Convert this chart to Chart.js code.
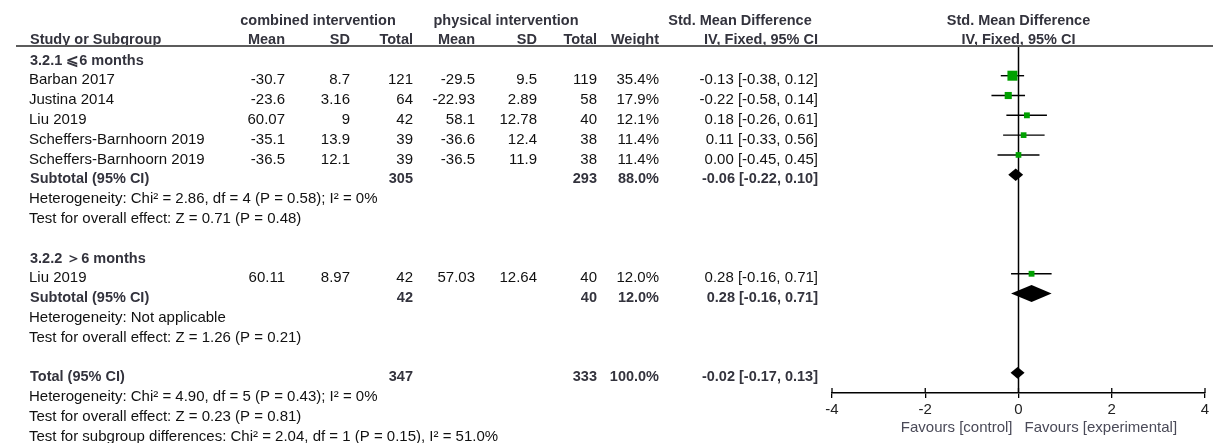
<!DOCTYPE html>
<html>
<head>
<meta charset="utf-8">
<script src="https://cdn.jsdelivr.net/npm/chart.js@4.4.1/dist/chart.umd.min.js"></script>
<style>
  html, body { margin: 0; padding: 0; background: #fff; }
  canvas { display: block; }
</style>
</head>
<body>
<canvas id="forest" width="1213" height="443"></canvas>
<script>
// ---- Study-level data (row = line number in the table, 0 = first subgroup heading)
const studyNames   = ['Barban 2017', 'Justina 2014', 'Liu 2019', 'Scheffers-Barnhoorn 2019', 'Scheffers-Barnhoorn 2019', 'Liu 2019'];
const studyRows    = [1, 2, 3, 4, 5, 11];
const combMean     = [-30.7, -23.6, 60.07, -35.1, -36.5, 60.11];
const combSD       = [8.7, 3.16, 9, 13.9, 12.1, 8.97];
const combN        = [121, 64, 42, 39, 39, 42];
const physMean     = [-29.5, -22.93, 58.1, -36.6, -36.5, 57.03];
const physSD       = [9.5, 2.89, 12.78, 12.4, 11.9, 12.64];
const physN        = [119, 58, 40, 38, 38, 40];
const studyWeight  = [35.4, 17.9, 12.1, 11.4, 11.4, 12.0];
const studySMD     = [-0.13, -0.22, 0.18, 0.11, 0.00, 0.28];
const studyLow     = [-0.38, -0.58, -0.26, -0.33, -0.45, -0.16];
const studyHigh    = [0.12, 0.14, 0.61, 0.56, 0.45, 0.71];

// ---- Pooled estimates (two subtotals and the overall total)
const pooledLabels = ['Subtotal (95% CI)', 'Subtotal (95% CI)', 'Total (95% CI)'];
const pooledRows   = [6, 12, 16];
const pooledCombN  = [305, 42, 347];
const pooledPhysN  = [293, 40, 333];
const pooledWeight = [88.0, 12.0, 100.0];
const pooledSMD    = [-0.06, 0.28, -0.02];
const pooledLow    = [-0.22, -0.16, -0.17];
const pooledHigh   = [0.10, 0.71, 0.13];

// ---- Subgroup headings and statistics lines
const headingTexts = ['3.2.1 \u2A7D6 months', '3.2.2 \uFF1E6 months'];
const headingRows  = [0, 10];
const noteTexts = [
  'Heterogeneity: Chi\u00B2 = 2.86, df = 4 (P = 0.58); I\u00B2 = 0%',
  'Test for overall effect: Z = 0.71 (P = 0.48)',
  'Heterogeneity: Not applicable',
  'Test for overall effect: Z = 1.26 (P = 0.21)',
  'Heterogeneity: Chi\u00B2 = 4.90, df = 5 (P = 0.43); I\u00B2 = 0%',
  'Test for overall effect: Z = 0.23 (P = 0.81)',
  'Test for subgroup differences: Chi\u00B2 = 2.04, df = 1 (P = 0.15), I\u00B2 = 51.0%'
];
const noteRows = [7, 8, 13, 14, 17, 18, 19];

// ---- Axis
const axisTicks = [-4, -2, 0, 2, 4];
const favoursLeft = 'Favours [control]';
const favoursRight = 'Favours [experimental]';

// ---- Styling
const FONT = '"Liberation Sans", Arial, sans-serif';
const REG = '15px ' + FONT;
const BOLD = 'bold 14.5px ' + FONT;
const TEXT = '#111111';
const HEAD = '#33333d';
const GREEN = '#00a000';

// column right edges (px) for the numeric table
const COL = { cMean: 285, cSD: 350, cN: 413, pMean: 475, pSD: 537, pN: 597, w: 659, ci: 818 };
const NAME_X = 29;

const fmtCI = (e, l, h) => `${e.toFixed(2)} [${l.toFixed(2)}, ${h.toFixed(2)}]`;

const forestPlugin = {
  id: 'forest',
  beforeDatasetsDraw(chart) {
    const { ctx, chartArea, scales: { x, y } } = chart;
    ctx.save();
    // line of no effect
    const x0 = x.getPixelForValue(0);
    ctx.strokeStyle = '#000';
    ctx.lineWidth = 1.5;
    ctx.beginPath();
    ctx.moveTo(x0, chartArea.top);
    ctx.lineTo(x0, chartArea.bottom);
    ctx.stroke();
    // confidence intervals of single studies
    ctx.lineWidth = 1.4;
    studyRows.forEach((r, i) => {
      const py = y.getPixelForValue(r);
      ctx.beginPath();
      ctx.moveTo(x.getPixelForValue(studyLow[i]), py);
      ctx.lineTo(x.getPixelForValue(studyHigh[i]), py);
      ctx.stroke();
    });
    // upper halves of axis tick marks
    ctx.lineWidth = 1.3;
    x.ticks.forEach(t => {
      const px = x.getPixelForValue(t.value);
      ctx.beginPath();
      ctx.moveTo(px, chartArea.bottom - 5);
      ctx.lineTo(px, chartArea.bottom);
      ctx.stroke();
    });
    ctx.restore();
  },
  afterDatasetsDraw(chart) {
    const { ctx, scales: { x, y } } = chart;
    ctx.save();
    ctx.fillStyle = '#000';
    pooledRows.forEach((r, i) => {
      const py = y.getPixelForValue(r);
      const l = x.getPixelForValue(pooledLow[i]);
      const h = x.getPixelForValue(pooledHigh[i]);
      const e = x.getPixelForValue(pooledSMD[i]);
      const half = Math.min(8.5, (h - l) * 0.42);
      ctx.beginPath();
      ctx.moveTo(l, py);
      ctx.lineTo(e, py - half);
      ctx.lineTo(h, py);
      ctx.lineTo(e, py + half);
      ctx.closePath();
      ctx.fill();
    });
    ctx.restore();
  },
  afterDraw(chart) {
    const { ctx, chartArea, scales: { x, y } } = chart;
    const base = r => y.getPixelForValue(r) + 8.7;
    ctx.save();
    const txt = (s, px, py, align, font, color) => {
      ctx.font = font; ctx.fillStyle = color; ctx.textAlign = align;
      ctx.textBaseline = 'alphabetic';
      ctx.fillText(s, px, py);
    };
    // column headers
    txt('combined intervention', 318, 25, 'center', BOLD, HEAD);
    txt('physical intervention', 506, 25, 'center', BOLD, HEAD);
    txt('Std. Mean Difference', 740, 25, 'center', BOLD, HEAD);
    const x0 = x.getPixelForValue(0);
    txt('Std. Mean Difference', x0, 25, 'center', BOLD, HEAD);
    txt('Study or Subgroup', 30, 44, 'left', BOLD, HEAD);
    [['Mean', COL.cMean], ['SD', COL.cSD], ['Total', COL.cN], ['Mean', COL.pMean],
     ['SD', COL.pSD], ['Total', COL.pN], ['Weight', COL.w], ['IV, Fixed, 95% CI', COL.ci]]
      .forEach(([s, px]) => txt(s, px, 44, 'right', BOLD, HEAD));
    txt('IV, Fixed, 95% CI', x0, 44, 'center', BOLD, HEAD);

    // header rule
    ctx.strokeStyle = '#5c5c5c';
    ctx.lineWidth = 2;
    ctx.beginPath();
    ctx.moveTo(16, chartArea.top);
    ctx.lineTo(1213, chartArea.top);
    ctx.stroke();

    // subgroup headings
    headingRows.forEach((r, i) => txt(headingTexts[i], 30, base(r), 'left', BOLD, HEAD));

    // study rows
    studyRows.forEach((r, i) => {
      const b = base(r);
      txt(studyNames[i], NAME_X, b, 'left', REG, TEXT);
      txt(String(combMean[i]), COL.cMean, b, 'right', REG, TEXT);
      txt(String(combSD[i]), COL.cSD, b, 'right', REG, TEXT);
      txt(String(combN[i]), COL.cN, b, 'right', REG, TEXT);
      txt(String(physMean[i]), COL.pMean, b, 'right', REG, TEXT);
      txt(String(physSD[i]), COL.pSD, b, 'right', REG, TEXT);
      txt(String(physN[i]), COL.pN, b, 'right', REG, TEXT);
      txt(studyWeight[i].toFixed(1) + '%', COL.w, b, 'right', REG, TEXT);
      txt(fmtCI(studySMD[i], studyLow[i], studyHigh[i]), COL.ci, b, 'right', REG, TEXT);
    });

    // pooled rows
    pooledRows.forEach((r, i) => {
      const b = base(r);
      txt(pooledLabels[i], 30, b, 'left', BOLD, HEAD);
      txt(String(pooledCombN[i]), COL.cN, b, 'right', BOLD, HEAD);
      txt(String(pooledPhysN[i]), COL.pN, b, 'right', BOLD, HEAD);
      txt(pooledWeight[i].toFixed(1) + '%', COL.w, b, 'right', BOLD, HEAD);
      txt(fmtCI(pooledSMD[i], pooledLow[i], pooledHigh[i]), COL.ci, b, 'right', BOLD, HEAD);
    });

    // heterogeneity / effect tests
    noteRows.forEach((r, i) => txt(noteTexts[i], NAME_X, base(r), 'left', REG, TEXT));

    // favours labels under the axis
    txt(favoursLeft, x0 - 6, 432, 'right', REG, '#4a4a58');
    txt(favoursRight, x0 + 6, 432, 'left', REG, '#4a4a58');
    ctx.restore();
  }
};

new Chart(document.getElementById('forest'), {
  type: 'scatter',
  data: {
    datasets: [{
      data: studyRows.map((r, i) => ({ x: studySMD[i], y: r })),
      pointStyle: 'rect',
      backgroundColor: GREEN,
      borderColor: GREEN,
      borderWidth: 0,
      pointRadius: ctx => 1.19 * Math.sqrt(studyWeight[ctx.dataIndex]),
      pointHoverRadius: ctx => 1.19 * Math.sqrt(studyWeight[ctx.dataIndex])
    }]
  },
  options: {
    responsive: false,
    animation: false,
    events: [],
    layout: { padding: { top: 46, left: 832, right: 8, bottom: 0 } },
    plugins: { legend: { display: false }, tooltip: { enabled: false } },
    scales: {
      x: {
        type: 'linear',
        min: axisTicks[0],
        max: axisTicks[axisTicks.length - 1],
        afterBuildTicks: s => { s.ticks = axisTicks.map(v => ({ value: v })); },
        afterFit: s => { s.height = 50; },
        grid: { drawOnChartArea: false, drawTicks: true, tickLength: 5, color: '#000', lineWidth: 1.3 },
        border: { display: true, color: '#000', width: 1.5 },
        ticks: { color: '#222', font: { family: FONT, size: 15 }, padding: 3, maxRotation: 0 }
      },
      y: {
        type: 'linear',
        reverse: true,
        min: -0.5,
        max: 17.02,
        display: false
      }
    }
  },
  plugins: [forestPlugin]
});
</script>
</body>
</html>
